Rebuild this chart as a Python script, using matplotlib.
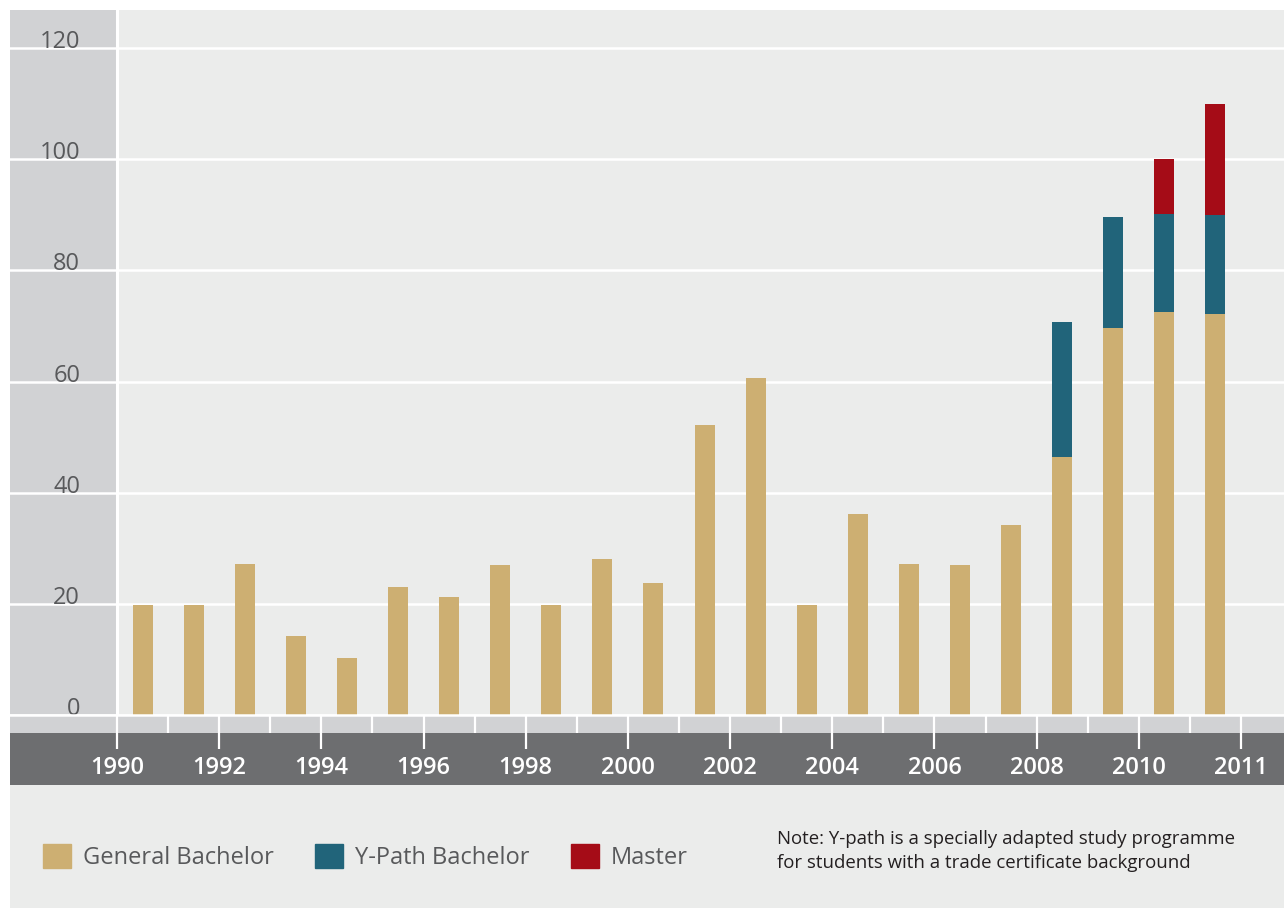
import matplotlib.pyplot as plt
from matplotlib.patches import Rectangle, Patch
import numpy as np

plt.rcParams['font.family'] = ['Open Sans', 'DejaVu Sans']

# data
years = ['1990', '1991', '1992', '1993', '1994', '1995', '1996', '1997', '1998', '1999', '2000',
         '2001', '2002', '2003', '2004', '2005', '2006', '2007', '2008', '2009', '2010', '2011']
general = [19.8, 19.8, 27.1, 14.2, 10.2, 23.0, 21.2, 26.9, 19.8, 28.0, 23.7,
           52.2, 60.6, 19.8, 36.2, 27.1, 26.9, 34.2, 46.4, 69.6, 72.5, 72.1]
ypath = [0, 0, 0, 0, 0, 0, 0, 0, 0, 0, 0,
         0, 0, 0, 0, 0, 0, 0, 24.3, 20.0, 17.6, 17.9]
master = [0, 0, 0, 0, 0, 0, 0, 0, 0, 0, 0,
          0, 0, 0, 0, 0, 0, 0, 0, 0, 9.9, 20.0]
xtick_pos = [0, 2, 4, 6, 8, 10, 12, 14, 16, 18, 20, 22]
xtick_labels = ['1990', '1992', '1994', '1996', '1998', '2000', '2002', '2004', '2006', '2008', '2010', '2011']
yticks = [0, 20, 40, 60, 80, 100, 120]

c_gen = '#cdaf72'
c_yp = '#21647a'
c_ma = '#a50c17'
bg = '#ebeceb'
panel = '#d1d2d4'
dark = '#6d6e70'
txt = '#58595b'

W, H = 1284, 909
fig = plt.figure(figsize=(W / 100, H / 100), dpi=100, facecolor='white')

def px_rect(x0, y0, x1, y1, color):
    # rectangle given in pixel coords from the top-left corner
    fig.patches.append(Rectangle((x0 / W, 1 - y1 / H), (x1 - x0) / W, (y1 - y0) / H,
                                 transform=fig.transFigure, color=color, zorder=-10, lw=0))

px_rect(10, 10, W, 908, bg)
px_rect(10, 715, W, 733, panel)
px_rect(10, 733, W, 785, dark)

ax = fig.add_axes([10 / W, (H - 715) / H, (W - 10) / W, 705 / H])
ax.set_facecolor(bg)

ppu = (1241 - 117) / 22.0
ax.set_xlim(-(117 - 10) / ppu, (W - 117) / ppu)
ax.set_ylim(0, (715 - 10) / ((715 - 48) / 120.0))

ax.axvspan(ax.get_xlim()[0], 0, color=panel, zorder=0.2, lw=0)
ax.axvline(0, color='white', lw=2.2, zorder=0.6)

x = np.arange(len(years)) + 0.5
gen = np.array(general)
yp = np.array(ypath)
ma = np.array(master)
bw = 0.39
ax.bar(x, gen, width=bw, color=c_gen, zorder=2, label='General Bachelor')
ax.bar(x, yp, width=bw, bottom=gen, color=c_yp, zorder=2, label='Y-Path Bachelor')
ax.bar(x, ma, width=bw, bottom=gen + yp, color=c_ma, zorder=2, label='Master')

for s in ['top', 'left', 'right']:
    ax.spines[s].set_visible(False)
ax.spines['bottom'].set_color('white')
ax.spines['bottom'].set_linewidth(1.8)

ax.set_axisbelow(True)
ax.set_yticks(yticks)
ax.set_yticklabels([str(v) for v in yticks], va='baseline')
ax.yaxis.grid(True, color='white', lw=1.8)
ax.tick_params(axis='y', length=0, pad=-50.5, labelsize=17, labelcolor=txt)

ax.set_xticks(xtick_pos)
ax.set_xticklabels(xtick_labels, fontweight='semibold')
ax.set_xticks(np.arange(1, 22, 2), minor=True)
ax.tick_params(axis='x', which='major', direction='out', length=24.5, width=1.6,
               color='white', labelcolor='white', labelsize=17, pad=5)
ax.tick_params(axis='x', which='minor', direction='out', length=13, width=1.6, color='white')
for t in ax.xaxis.get_major_ticks() + ax.xaxis.get_minor_ticks():
    t.tick1line.set_clip_on(False)

handles = [Patch(color=c_gen), Patch(color=c_yp), Patch(color=c_ma)]
fig.legend(handles, ['General Bachelor', 'Y-Path Bachelor', 'Master'],
           loc='center left', bbox_to_anchor=(43 / W, 1 - 857 / H), ncol=3, frameon=False,
           prop={'size': 17}, labelcolor=txt, handlelength=1.19, handleheight=1.19,
           handletextpad=0.5, columnspacing=1.75, borderpad=0, borderaxespad=0)

fig.text(777 / W, 1 - 851 / H,
         'Note: Y-path is a specially adapted study programme\nfor students with a trade certificate background',
         fontsize=13.4, color='#231f20', va='center', ha='left', linespacing=1.45)

fig.savefig('out.png', dpi=100, facecolor='white')
